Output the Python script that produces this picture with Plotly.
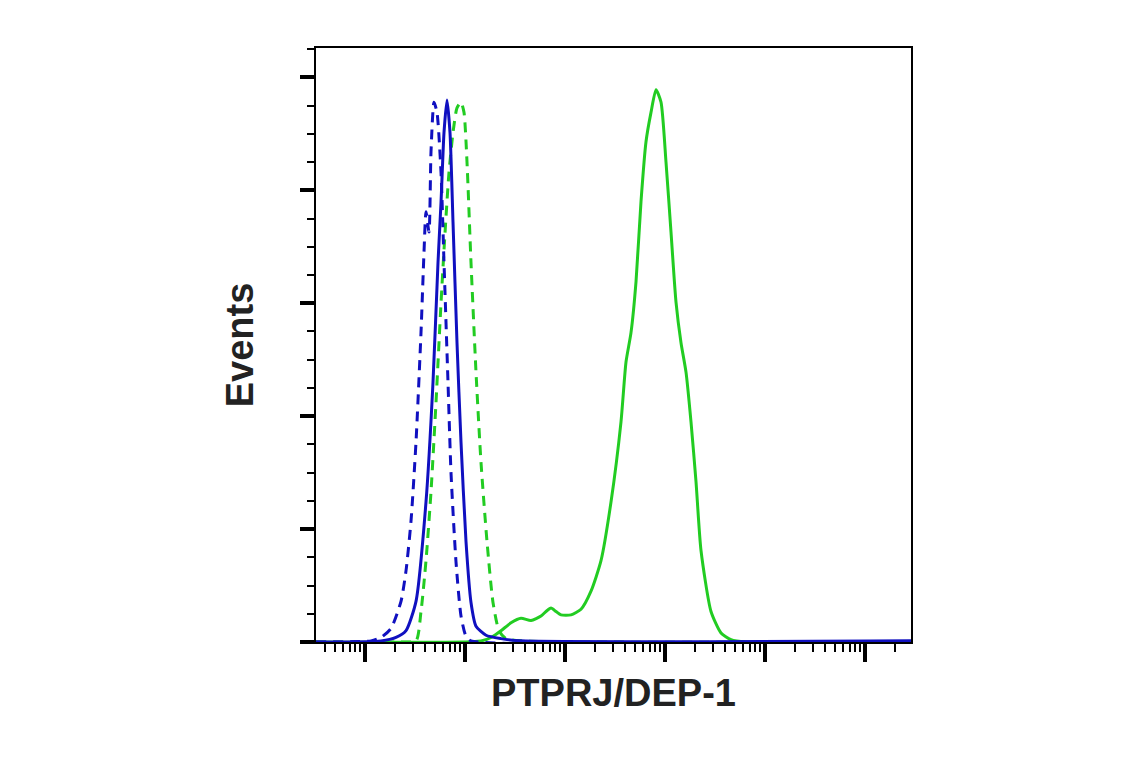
import numpy as np
import plotly.graph_objects as go

# log10 intensity positions and event counts
blue_dash_log = [-0.49, 0.06, 0.16, 0.26, 0.36, 0.41, 0.46, 0.51, 0.56, 0.59, 0.61, 0.64, 0.66, 0.69, 0.72,
                 0.76, 0.79, 0.83, 0.86, 0.91, 0.96, 1.01, 1.06, 5.46]
blue_dash_cnt = [0, 0.01, 0.04, 0.12, 0.36, 0.63, 1.07, 1.77, 2.74, 3.45, 3.81, 3.63, 4.34, 4.78, 4.69,
                 4.16, 3.36, 2.3, 1.5, 0.71, 0.23, 0.05, 0.01, 0]

blue_log = [-0.49, 0.16, 0.31, 0.41, 0.51, 0.61, 0.68, 0.73, 0.76, 0.79, 0.82, 0.85, 0.88, 0.92, 0.96,
            1.01, 1.06, 1.11, 1.21, 1.36, 1.56, 5.46]
blue_cnt = [0, 0.01, 0.04, 0.1, 0.36, 1.24, 2.3, 3.36, 3.89, 4.51, 4.8, 4.51, 3.72, 2.65, 1.77,
            0.89, 0.35, 0.14, 0.06, 0.03, 0.01, 0.01]

green_dash_log = [-0.49, 0.36, 0.51, 0.56, 0.61, 0.66, 0.71, 0.76, 0.80, 0.84, 0.88, 0.92, 0.96, 0.99, 1.02,
                  1.06, 1.11, 1.16, 1.22, 1.28, 1.34, 1.41, 1.56, 5.46]
green_dash_cnt = [0, 0, 0.01, 0.27, 0.72, 1.33, 2.12, 3.0, 3.62, 4.16, 4.51, 4.73, 4.78, 4.69, 4.25,
                  3.36, 2.39, 1.59, 0.89, 0.35, 0.1, 0.03, 0.01, 0]

green_log = [-0.49, 1.16, 1.26, 1.36, 1.46, 1.56, 1.66, 1.76, 1.81, 1.86, 1.91, 1.96, 2.06, 2.16, 2.26,
             2.36, 2.46, 2.56, 2.61, 2.66, 2.71, 2.76, 2.81, 2.86, 2.91, 2.96, 3.01, 3.06, 3.11, 3.16,
             3.21, 3.26, 3.31, 3.36, 3.46, 3.56, 3.66, 3.81, 5.46]
green_cnt = [0, 0.01, 0.04, 0.1, 0.17, 0.21, 0.19, 0.23, 0.27, 0.3, 0.27, 0.24, 0.24, 0.29, 0.45,
             0.72, 1.24, 1.95, 2.48, 2.74, 3.19, 3.9, 4.43, 4.69, 4.89, 4.78, 4.25, 3.63, 3.01, 2.65,
             2.39, 1.95, 1.42, 0.81, 0.27, 0.08, 0.02, 0, 0]

BLUE = "#1010c0"
GREEN = "#22cc22"

fig = go.Figure()
series = [
    (green_log, green_cnt, GREEN, "solid"),
    (green_dash_log, green_dash_cnt, GREEN, "10px,7px"),
    (blue_dash_log, blue_dash_cnt, BLUE, "10px,7px"),
    (blue_log, blue_cnt, BLUE, "solid"),
]
for lg, cnt, col, dash in series:
    fig.add_trace(go.Scatter(x=10 ** np.array(lg), y=cnt, mode="lines",
                             line=dict(color=col, width=3, dash=dash, shape="spline", smoothing=0.6),
                             showlegend=False, hoverinfo="skip"))

minor_x = [m * 10 ** d for d in range(-1, 6) for m in range(2, 10)]
font = "Liberation Sans Narrow, Arial Narrow, Liberation Sans, sans-serif"

fig.update_layout(
    width=1141, height=768,
    margin=dict(l=308, r=238, t=40, b=134),
    plot_bgcolor="white", paper_bgcolor="white",
    xaxis=dict(type="log", range=[-0.49, 5.46], showgrid=False, zeroline=False,
               showline=True, mirror=True, linecolor="black", linewidth=2,
               ticks="outside", tickvals=[10 ** d for d in range(6)], ticklen=18, tickwidth=4,
               tickcolor="black", showticklabels=False,
               minor=dict(ticks="outside", tickvals=minor_x, ticklen=8, tickwidth=2, tickcolor="black"),
               title=dict(text="<b>PTPRJ/DEP-1</b>", font=dict(family=font, size=38, color="#222"),
                          standoff=18)),
    yaxis=dict(range=[0, 5.26], showgrid=False, zeroline=False,
               showline=True, mirror=True, linecolor="black", linewidth=2,
               ticks="outside", tickvals=[0, 1, 2, 3, 4, 5], ticklen=14, tickwidth=4,
               tickcolor="black", showticklabels=False,
               minor=dict(ticks="outside", dtick=0.25, ticklen=7, tickwidth=2, tickcolor="black"),
               title=dict(text="<b>Events</b>", font=dict(family=font, size=38, color="#222"),
                          standoff=35)),
)

fig.write_html("out.html")
